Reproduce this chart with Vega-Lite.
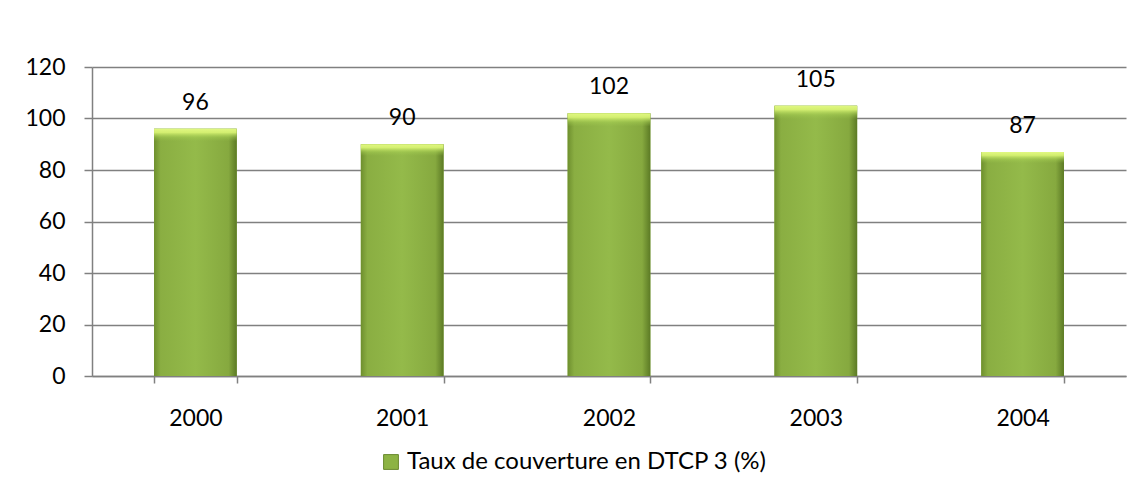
{
  "$schema": "https://vega.github.io/schema/vega-lite/v6.json",
  "autosize": {"type": "none"},
  "width": 1034,
  "height": 309,
  "padding": {"left": 92, "top": 67, "right": 1, "bottom": 114},
  "background": "white",
  "config": {
    "view": {"stroke": null},
    "font": "Lato",
    "axis": {"labelFont": "Lato", "labelFontSize": 23, "labelColor": "#000000", "domainColor": "#808080", "tickColor": "#808080", "gridColor": "#808080", "gridOpacity": 1, "gridWidth": 1.5, "domainWidth": 1.5, "tickWidth": 1.5}
  },
  "data": {
    "values": [
      {"annee": "2000", "taux": 96},
      {"annee": "2001", "taux": 90},
      {"annee": "2002", "taux": 102},
      {"annee": "2003", "taux": 105},
      {"annee": "2004", "taux": 87}
    ]
  },
  "encoding": {
    "x": {
      "field": "annee", "type": "nominal", "title": null,
      "scale": {"paddingInner": 0.6, "paddingOuter": 0.3},
      "axis": {"labelAngle": 0, "tickBand": "extent", "tickSize": 7, "labelPadding": 24, "grid": false}
    },
    "y": {
      "field": "taux", "type": "quantitative", "title": null,
      "scale": {"domain": [0, 120]},
      "axis": {"values": [0, 20, 40, 60, 80, 100, 120], "tickSize": 8, "labelPadding": 19, "grid": true}
    }
  },
  "layer": [
    {
      "mark": {"type": "bar", "fill": "#8db344"},
      "encoding": {
        "color": {
          "datum": "Taux de couverture en DTCP 3 (%)",
          "type": "nominal",
          "scale": {"range": ["#8db344"]},
          "legend": {
            "title": null, "orient": "none", "legendX": 287, "legendY": 383,
            "symbolType": "square", "symbolSize": 220, "symbolStrokeColor": "#6b8a30", "symbolStrokeWidth": 1,
            "labelFont": "Lato", "labelFontSize": 24, "labelColor": "#000000", "labelOffset": 4, "labelLimit": 0
          }
        }
      }
    },
    {
      "mark": {
        "type": "bar",
        "fill": {
          "gradient": "linear", "x1": 0, "x2": 1, "y1": 0, "y2": 0,
          "stops": [
            {"offset": 0, "color": "#6e8f2e"},
            {"offset": 0.08, "color": "#8aae42"},
            {"offset": 0.5, "color": "#94ba4a"},
            {"offset": 0.9, "color": "#86a93f"},
            {"offset": 1, "color": "#5c7a25"}
          ]
        }
      }
    },
    {
      "mark": {
        "type": "bar",
        "fill": {
          "gradient": "linear", "x1": 0, "x2": 0, "y1": 0, "y2": 1,
          "stops": [
            {"offset": 0, "color": "rgba(225,248,130,1)"},
            {"offset": 0.015, "color": "rgba(215,242,115,0.95)"},
            {"offset": 0.035, "color": "rgba(170,210,85,0.4)"},
            {"offset": 0.05, "color": "rgba(160,200,80,0)"},
            {"offset": 1, "color": "rgba(160,200,80,0)"}
          ]
        }
      }
    },
    {
      "mark": {"type": "text", "baseline": "alphabetic", "dy": -19, "font": "Lato", "fontSize": 23, "color": "#000000"},
      "encoding": {"text": {"field": "taux", "type": "quantitative"}}
    }
  ]
}
